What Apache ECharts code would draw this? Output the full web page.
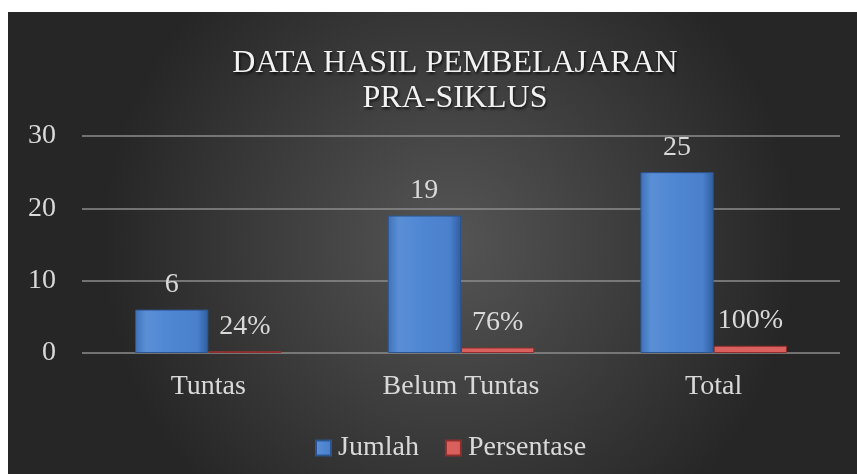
<!DOCTYPE html>
<html>
<head>
<meta charset="utf-8">
<script src="https://cdn.jsdelivr.net/npm/echarts@6/dist/echarts.min.js"></script>
<style>
  html,body{margin:0;padding:0;background:#fff;}
  #main{position:absolute;left:8px;top:12px;width:849px;height:462px;}
</style>
</head>
<body>
<div id="main"></div>
<script>
// data
var categories = ['Tuntas', 'Belum Tuntas', 'Total'];
var jumlah = [6, 19, 25];
var persentase = [0.24, 0.76, 1.00];
var yTicks = [0, 10, 20, 30];

var myChart = echarts.init(document.getElementById('main'));
var txt = '#d9d9d9';
var font = '"Liberation Serif", "DejaVu Serif", serif';

myChart.setOption({
  backgroundColor: {
    type: 'radial', x: 0.52, y: 0.5, r: 0.75,
    colorStops: [
      { offset: 0, color: '#555555' },
      { offset: 1, color: '#262626' }
    ]
  },
  title: {
    text: 'DATA HASIL PEMBELAJARAN\nPRA-SIKLUS',
    left: 442,
    textAlign: 'center',
    top: 29,
    textStyle: {
      color: '#f2f2f2', fontFamily: font, fontSize: 32, fontWeight: 'normal',
      lineHeight: 35,
      textShadowColor: 'rgba(0,0,0,0.8)', textShadowBlur: 3,
      textShadowOffsetX: 1, textShadowOffsetY: 2
    }
  },
  legend: {
    data: ['Jumlah', 'Persentase'],
    left: 302,
    top: 417,
    itemWidth: 15,
    itemHeight: 15,
    itemGap: 26,
    icon: 'rect',
    textStyle: { color: txt, fontFamily: font, fontSize: 28, padding: [0, 0, 0, 2] }
  },
  grid: { left: 74, right: 17, top: 124, bottom: 121, containLabel: false },
  xAxis: {
    type: 'category',
    data: categories,
    axisLine: { show: false },
    axisTick: { show: false },
    axisLabel: { color: txt, fontFamily: font, fontSize: 28, margin: 20 }
  },
  yAxis: {
    type: 'value',
    min: yTicks[0], max: yTicks[yTicks.length - 1], interval: 10,
    axisLabel: { color: txt, fontFamily: font, fontSize: 28, margin: 26 },
    splitLine: { lineStyle: { color: '#8c8c8c', width: 1.5 } }
  },
  series: [
    {
      name: 'Jumlah', type: 'bar', data: jumlah,
      barWidth: '29%', barGap: '0%',
      itemStyle: {
        color: {
          type: 'linear', x: 0, y: 0, x2: 1, y2: 0,
          colorStops: [
            { offset: 0, color: '#3f70b5' },
            { offset: 0.15, color: '#5a8fd6' },
            { offset: 0.5, color: '#4f86d2' },
            { offset: 0.85, color: '#4a80cc' },
            { offset: 1, color: '#2f5d9e' }
          ]
        },
        borderColor: '#2c5590', borderWidth: 1
      },
      label: { show: true, position: 'top', distance: 11, color: txt, fontFamily: font, fontSize: 28 }
    },
    {
      name: 'Persentase', type: 'bar', data: persentase,
      barWidth: '29%',
      itemStyle: { color: '#d9605c', borderColor: '#8e2f2d', borderWidth: 1 },
      label: {
        show: true, position: 'top', distance: 11, color: txt, fontFamily: font, fontSize: 28,
        formatter: function (p) { return Math.round(p.value * 100) + '%'; }
      }
    }
  ]
});
</script>
</body>
</html>
